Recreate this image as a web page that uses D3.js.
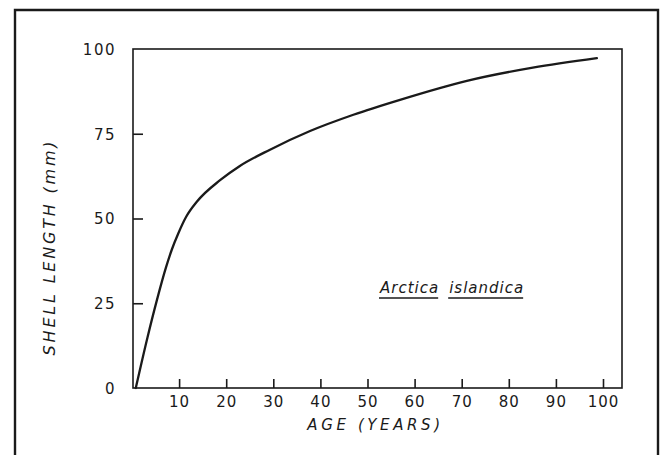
<!DOCTYPE html>
<html>
<head>
<meta charset="utf-8">
<script src="https://cdn.jsdelivr.net/npm/d3@7"></script>
<style>
  html, body { margin: 0; padding: 0; background: #fff; }
  svg { display: block; }
  text { fill: #1a1a1a; font-family: "DejaVu Sans", sans-serif; }
</style>
</head>
<body>
<script>
// Growth curve of the ocean quahog: shell length against age
const ages    = [0.8, 3.3, 5.3, 7.2, 8.5, 9.8, 11.5, 13.8, 18.7, 22.9, 29.3, 37.8, 47.0, 56.9, 71.1, 85.1, 98.7];
const lengths = [0,   15,  26,  35.5, 41, 45.5, 50.5, 55.0, 61.3, 65.5, 70.3, 75.8, 80.6, 85.0, 90.6, 94.5, 97.3];
const xTicks = [10, 20, 30, 40, 50, 60, 70, 80, 90, 100];
const yTicks = [0, 25, 50, 75, 100];
const speciesWords = ["Arctica", "islandica"];

const W = 662, H = 455;
const ink = "#1a1a1a";

const svg = d3.select("body").append("svg")
  .attr("width", W).attr("height", H);

// outer figure frame (open at the bottom edge of the page)
svg.append("path")
  .attr("d", `M15,${H + 5} L15,10 L658,10 L658,${H + 5}`)
  .attr("fill", "none").attr("stroke", ink).attr("stroke-width", 2.4);

const plot = { left: 133, right: 622, top: 49, bottom: 388 };

const x = d3.scaleLinear().domain([0, 100]).range([132, 603]);
const y = d3.scaleLinear().domain([0, 100]).range([plot.bottom, plot.top]);

// plot box
svg.append("rect")
  .attr("x", plot.left).attr("y", plot.top)
  .attr("width", plot.right - plot.left).attr("height", plot.bottom - plot.top)
  .attr("fill", "none").attr("stroke", ink).attr("stroke-width", 1.6);

// x axis: ticks point into the plot
const xAxis = d3.axisBottom(x).tickValues(xTicks).tickSizeInner(-9).tickSizeOuter(0).tickPadding(8);
const gx = svg.append("g").attr("transform", `translate(0,${plot.bottom})`).call(xAxis);
gx.select(".domain").remove();
gx.selectAll(".tick line").attr("stroke", ink).attr("stroke-width", 1.6);
gx.selectAll(".tick text").attr("font-size", 15).attr("fill", ink).attr("letter-spacing", 1);

// y axis: ticks point into the plot
const yAxis = d3.axisLeft(y).tickValues(yTicks).tickSizeInner(-10).tickSizeOuter(0).tickPadding(17);
const gy = svg.append("g").attr("transform", `translate(${plot.left},0)`).call(yAxis);
gy.select(".domain").remove();
gy.selectAll(".tick line").attr("stroke", ink).attr("stroke-width", 1.6)
  .filter(d => d === 0 || d === 100).remove();
gy.selectAll(".tick text").attr("font-size", 15).attr("fill", ink)
  .attr("letter-spacing", 1.5).attr("dy", "0.35em");

// axis titles
svg.append("text")
  .attr("x", (plot.left + plot.right) / 2 - 2).attr("y", 430)
  .attr("text-anchor", "middle")
  .attr("font-size", 15).attr("font-style", "italic")
  .attr("letter-spacing", 3.6)
  .text("AGE (YEARS)");

svg.append("text")
  .attr("transform", "translate(55,247) rotate(-90)")
  .attr("text-anchor", "middle")
  .attr("font-size", 16).attr("font-style", "italic")
  .attr("letter-spacing", 2.8)
  .text("SHELL LENGTH (mm)");

// growth curve
const pts = ages.map((a, i) => [a, lengths[i]]);
svg.append("path")
  .datum(pts)
  .attr("fill", "none").attr("stroke", ink).attr("stroke-width", 2.3)
  .attr("stroke-linecap", "round")
  .attr("d", d3.line().x(d => x(d[0])).y(d => y(d[1])).curve(d3.curveMonotoneX));

// species name, each word underlined
const label = svg.append("g").attr("transform", "translate(380,293)");
let cx = 0;
speciesWords.forEach((w, i) => {
  const t = label.append("text")
    .attr("x", cx).attr("y", 0)
    .attr("font-size", 15).attr("font-style", "italic")
    .attr("letter-spacing", 1)
    .text(w);
  const bw = t.node().getComputedTextLength();
  label.append("line")
    .attr("x1", cx - 1).attr("x2", cx + bw - 1)
    .attr("y1", 5).attr("y2", 5)
    .attr("stroke", ink).attr("stroke-width", 1.4);
  cx += bw + 10;
});
</script>
</body>
</html>
